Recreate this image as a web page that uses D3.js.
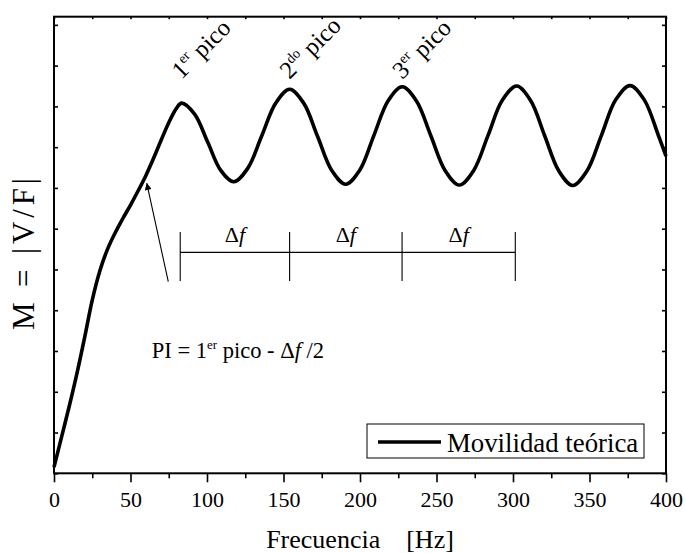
<!DOCTYPE html>
<html><head><meta charset="utf-8">
<script src="https://cdn.jsdelivr.net/npm/d3@7"></script>
<style>
body{margin:0;background:#fff}
svg{display:block}
text{font-family:'Liberation Serif','Tinos','Times New Roman','DejaVu Serif',serif;fill:#000}
</style>
</head><body><svg id="c" width="686" height="553"></svg>
<script>
// ---- data ----
const freq = [0,5,10,15,20,25,30,35,40,45,50,55,60,65,70,75,80,83.4,91.9,100.5,109,117.5,126.6,135.8,144.9,154,163.2,172.3,181.5,190.6,199.9,209.1,218.4,227.6,236.9,246.3,255.6,264.9,274.3,283.7,293,302.4,311.6,320.7,329.9,339,348.4,357.8,367.1,376.5,385.8,395,400];
const mobility = [0.15,0.9,1.65,2.45,3.33,4.25,4.97,5.5,5.9,6.25,6.58,6.93,7.3,7.72,8.17,8.6,8.95,9.08,8.81,8.12,7.43,7.15,7.48,8.28,9.08,9.42,9.08,8.26,7.43,7.09,7.44,8.29,9.14,9.48,9.13,8.28,7.43,7.07,7.43,8.29,9.15,9.5,9.14,8.28,7.42,7.06,7.42,8.29,9.16,9.51,9.16,8.29,7.78];
const xTickMajor = [0,50,100,150,200,250,300,350,400];
const xTickMinor = [25,75,125,175,225,275,325,375];
const yTicks = [0,1,2,3,4,5,6,7,8,9,10,11];
const peakFreq = [83.4,154,227.6];
const peakNum = ["1","2","3"];
const peakSup = ["er","do","er"];
const deltaMarks = [82.5,154,227.5,301.5];
const deltaLevel = 5.42;
const arrowFrom = [74.7,4.70];
const arrowTo = [60.6,7.12];
const piPos = [63.9,2.83];
const legendLabel = "Movilidad teórica";
const xTitle = "Frecuencia    [Hz]";
const yTitle = "M = |V/F|";

const FONT = "'Liberation Serif','Tinos','Times New Roman','DejaVu Serif',serif";

// ---- scales ----
const svg = d3.select("#c");
const x = d3.scaleLinear().domain([0,400]).range([54,666]);
const y = d3.scaleLinear().domain([0,11.2]).range([473.3,16.7]);

svg.append("defs").append("marker").attr("id","ah")
  .attr("viewBox","0 0 10 10").attr("refX",10).attr("refY",5)
  .attr("markerWidth",11).attr("markerHeight",7).attr("markerUnits","userSpaceOnUse")
  .attr("orient","auto")
  .append("path").attr("d","M0,0 L10,5 L0,10 z").attr("fill","#000");

// ---- axes ----
function styleAxis(g){
  g.attr("font-family",FONT);
  g.select(".domain").remove();
  g.selectAll(".tick line").attr("stroke","#000").attr("stroke-width",1.6);
  g.selectAll(".tick text").attr("font-family",FONT).style("font-family",FONT).style("font-size","22px").attr("fill","#000");
}
svg.append("g").attr("transform",`translate(0,${y(0)})`)
  .call(d3.axisBottom(x).tickValues(xTickMajor).tickSize(9).tickPadding(9).tickFormat(d3.format("d"))).call(styleAxis);
svg.append("g").attr("transform",`translate(0,${y(0)})`)
  .call(d3.axisBottom(x).tickValues(xTickMinor).tickSize(5).tickFormat("")).call(styleAxis);
svg.append("g").attr("transform",`translate(0,${y(11.2)})`)
  .call(d3.axisBottom(x).tickValues(xTickMajor.concat(xTickMinor)).tickSize(2.5).tickFormat("")).call(styleAxis);
svg.append("g").attr("transform",`translate(${x(0)},0)`)
  .call(d3.axisRight(y).tickValues(yTicks).tickSize(4).tickFormat("")).call(styleAxis);
svg.append("g").attr("transform",`translate(${x(400)},0)`)
  .call(d3.axisLeft(y).tickValues(yTicks).tickSize(4).tickFormat("")).call(styleAxis);

svg.append("rect").attr("x",x(0)).attr("y",y(11.2)).attr("width",x(400)-x(0)).attr("height",y(0)-y(11.2))
  .attr("fill","none").attr("stroke","#000").attr("stroke-width",2);

// ---- curve ----
const pts = freq.map((f,i)=>[f,mobility[i]]);
svg.append("path").datum(pts)
  .attr("d",d3.line().x(d=>x(d[0])).y(d=>y(d[1])).curve(d3.curveCatmullRom.alpha(0.5)))
  .attr("fill","none").attr("stroke","#000").attr("stroke-width",3.6).attr("stroke-linejoin","round");

// ---- peak labels ----
peakFreq.forEach((f,i)=>{
  const t = svg.append("text")
    .attr("transform",`translate(${x(f)},${y(9.65)}) rotate(-45)`)
    .style("font-size","24.5px");
  t.append("tspan").text(peakNum[i]);
  t.append("tspan").text(peakSup[i]).style("font-size","14px").attr("dy",-10);
  t.append("tspan").text("\u00a0pico").attr("dy",10);
});

// ---- delta f bracket ----
svg.append("line").attr("x1",x(deltaMarks[0])).attr("x2",x(deltaMarks[deltaMarks.length-1]))
  .attr("y1",y(deltaLevel)).attr("y2",y(deltaLevel)).attr("stroke","#000").attr("stroke-width",1.1);
deltaMarks.forEach(m=>{
  svg.append("line").attr("x1",x(m)).attr("x2",x(m)).attr("y1",y(deltaLevel+0.5)).attr("y2",y(deltaLevel-0.7))
    .attr("stroke","#000").attr("stroke-width",1.1);
});
for(let i=0;i<deltaMarks.length-1;i++){
  const t = svg.append("text").attr("x",x((deltaMarks[i]+deltaMarks[i+1])/2)).attr("y",y(deltaLevel)-10)
    .attr("text-anchor","middle").style("font-size","22px");
  t.append("tspan").text("\u0394");
  t.append("tspan").text("f").style("font-style","italic");
}

// ---- arrow ----
svg.append("line").attr("x1",x(arrowFrom[0])).attr("y1",y(arrowFrom[1]))
  .attr("x2",x(arrowTo[0])).attr("y2",y(arrowTo[1]))
  .attr("stroke","#000").attr("stroke-width",1.1).attr("marker-end","url(#ah)");

// ---- PI formula ----
{
  const t = svg.append("text").attr("x",x(piPos[0])).attr("y",y(piPos[1])).style("font-size","22.5px").style("white-space","pre");
  t.append("tspan").text("PI = 1");
  t.append("tspan").text("er").style("font-size","13px").attr("dy",-9);
  t.append("tspan").text(" pico - \u0394").attr("dy",9);
  t.append("tspan").text("f").style("font-style","italic");
  t.append("tspan").text(" /2");
}

// ---- legend ----
svg.append("rect").attr("x",367).attr("y",424).attr("width",277).attr("height",34)
  .attr("fill","#fff").attr("stroke","#000").attr("stroke-width",1);
svg.append("line").attr("x1",378).attr("x2",441).attr("y1",442).attr("y2",442).attr("stroke","#000").attr("stroke-width",3.6);
svg.append("text").attr("x",447).attr("y",452).style("font-size","26.8px").text(legendLabel);

// ---- axis titles ----
svg.append("text").attr("x",360).attr("y",548).attr("text-anchor","middle").style("font-size","26px").style("white-space","pre").text(xTitle);
svg.append("text").attr("transform","translate(34,254) rotate(-90)").attr("text-anchor","middle")
  .style("font-size","31px").attr("textLength",152).attr("lengthAdjust","spacing").text(yTitle);
</script>
</body></html>
